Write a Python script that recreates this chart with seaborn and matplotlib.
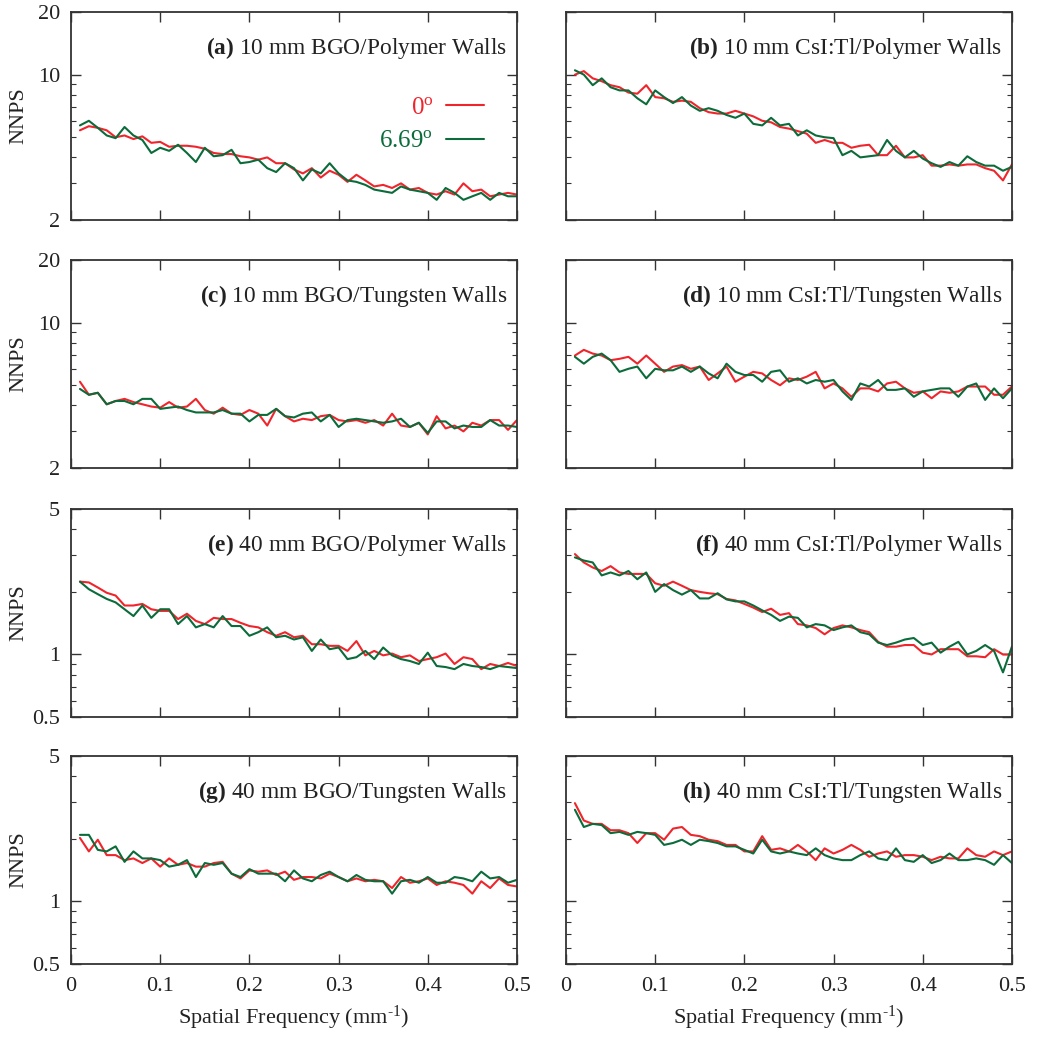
import numpy as np
import pandas as pd
import matplotlib
matplotlib.use("Agg")
import matplotlib.pyplot as plt
import matplotlib.ticker as mticker
import seaborn as sns

# spatial frequency samples (mm^-1)
freq = [0.01, 0.02, 0.03, 0.04, 0.05, 0.06, 0.07, 0.08, 0.09, 0.10,
        0.11, 0.12, 0.13, 0.14, 0.15, 0.16, 0.17, 0.18, 0.19, 0.20,
        0.21, 0.22, 0.23, 0.24, 0.25, 0.26, 0.27, 0.28, 0.29, 0.30,
        0.31, 0.32, 0.33, 0.34, 0.35, 0.36, 0.37, 0.38, 0.39, 0.40,
        0.41, 0.42, 0.43, 0.44, 0.45, 0.46, 0.47, 0.48, 0.49, 0.50]

angles = ["0$^{\\mathrm{o}}$", "6.69$^{\\mathrm{o}}$"]

# (a) 10 mm BGO / polymer walls
a_0 = [5.4, 5.65, 5.55, 5.4, 5.0, 5.1, 4.9, 5.05, 4.7, 4.75,
       4.5, 4.55, 4.55, 4.5, 4.4, 4.2, 4.15, 4.15, 4.05, 4.0,
       3.9, 4.0, 3.75, 3.75, 3.5, 3.35, 3.55, 3.2, 3.45, 3.3,
       3.05, 3.3, 3.1, 2.9, 2.95, 2.85, 3.0, 2.8, 2.85, 2.7,
       2.65, 2.75, 2.65, 3.0, 2.75, 2.8, 2.6, 2.65, 2.7, 2.65]
a_669 = [5.7, 6.0, 5.55, 5.1, 4.95, 5.6, 5.1, 4.85, 4.2, 4.45,
         4.3, 4.6, 4.2, 3.8, 4.45, 4.05, 4.1, 4.35, 3.75, 3.8,
         3.9, 3.55, 3.4, 3.75, 3.55, 3.1, 3.5, 3.35, 3.75, 3.35,
         3.1, 3.05, 2.95, 2.8, 2.75, 2.7, 2.9, 2.8, 2.75, 2.7,
         2.5, 2.85, 2.7, 2.5, 2.6, 2.7, 2.5, 2.7, 2.6, 2.6]

# (b) 10 mm CsI:Tl / polymer walls
b_0 = [10.0, 10.4, 9.6, 9.3, 8.9, 8.7, 8.2, 8.1, 8.9, 7.8,
       7.7, 7.4, 7.5, 7.4, 6.9, 6.6, 6.5, 6.5, 6.7, 6.5,
       6.3, 6.0, 5.9, 5.6, 5.5, 5.35, 5.2, 4.7, 4.85, 4.7,
       4.7, 4.45, 4.55, 4.6, 4.1, 4.1, 4.55, 4.0, 4.0, 4.1,
       3.65, 3.65, 3.7, 3.65, 3.7, 3.7, 3.55, 3.45, 3.1, 3.7]
b_669 = [10.5, 10.0, 8.9, 9.6, 8.7, 8.4, 8.4, 7.7, 7.2, 8.4,
         7.8, 7.3, 7.8, 7.1, 6.7, 6.9, 6.7, 6.4, 6.2, 6.5,
         5.8, 5.7, 6.2, 5.7, 5.8, 5.1, 5.4, 5.1, 5.0, 4.95,
         4.1, 4.3, 4.0, 4.05, 4.1, 4.85, 4.3, 4.0, 4.3, 3.95,
         3.75, 3.6, 3.8, 3.65, 4.05, 3.8, 3.65, 3.65, 3.45, 3.6]

# (c) 10 mm BGO / tungsten walls
c_0 = [5.2, 4.5, 4.6, 4.05, 4.2, 4.3, 4.15, 4.05, 3.95, 3.9,
       4.15, 3.9, 3.95, 4.3, 3.8, 3.65, 3.9, 3.65, 3.6, 3.8,
       3.65, 3.2, 3.85, 3.55, 3.35, 3.45, 3.4, 3.55, 3.6, 3.4,
       3.35, 3.4, 3.3, 3.4, 3.2, 3.65, 3.2, 3.15, 3.3, 2.9,
       3.55, 3.1, 3.2, 3.0, 3.3, 3.2, 3.4, 3.4, 3.05, 3.4]
c_669 = [4.8, 4.5, 4.6, 4.05, 4.2, 4.2, 4.05, 4.3, 4.3, 3.85,
         3.9, 3.95, 3.8, 3.7, 3.7, 3.7, 3.8, 3.65, 3.65, 3.35,
         3.6, 3.6, 3.85, 3.55, 3.5, 3.65, 3.7, 3.35, 3.6, 3.15,
         3.4, 3.45, 3.4, 3.35, 3.3, 3.35, 3.45, 3.15, 3.3, 2.95,
         3.35, 3.35, 3.1, 3.2, 3.15, 3.15, 3.4, 3.2, 3.2, 3.15]

# (d) 10 mm CsI:Tl / tungsten walls
d_0 = [6.95, 7.4, 7.1, 6.95, 6.6, 6.7, 6.85, 6.35, 6.95, 6.35,
       5.8, 6.15, 6.25, 6.0, 6.15, 5.3, 5.7, 6.15, 5.2, 5.5,
       5.8, 5.7, 5.3, 5.0, 5.4, 5.3, 5.5, 5.8, 4.83, 5.1,
       4.83, 4.4, 4.83, 4.83, 4.67, 5.1, 5.2, 4.83, 4.6, 4.67,
       4.33, 4.67, 4.6, 4.67, 4.93, 4.93, 4.93, 4.5, 4.5, 4.93]
d_669 = [6.85, 6.35, 6.85, 7.1, 6.6, 5.8, 6.0, 6.15, 5.4, 6.0,
         5.9, 5.9, 6.15, 5.8, 6.15, 5.7, 5.4, 6.35, 5.8, 5.6,
         5.6, 5.2, 5.8, 5.9, 5.2, 5.4, 5.1, 5.3, 5.2, 5.3,
         4.67, 4.25, 5.1, 4.93, 5.3, 4.75, 4.75, 4.83, 4.4, 4.67,
         4.75, 4.83, 4.83, 4.4, 4.93, 5.1, 4.25, 4.83, 4.33, 4.83]

# (e) 40 mm BGO / polymer walls
e_0 = [2.24, 2.22, 2.1, 1.98, 1.92, 1.72, 1.72, 1.75, 1.65, 1.62,
       1.62, 1.48, 1.57, 1.45, 1.40, 1.5, 1.48, 1.48, 1.42, 1.37,
       1.35, 1.28, 1.23, 1.28, 1.21, 1.23, 1.12, 1.12, 1.10, 1.10,
       1.04, 1.16, 0.99, 1.04, 0.99, 1.01, 0.97, 0.99, 0.93, 0.95,
       0.97, 1.01, 0.9, 0.97, 0.95, 0.85, 0.9, 0.88, 0.91, 0.88]
e_669 = [2.24, 2.06, 1.95, 1.85, 1.78, 1.65, 1.53, 1.72, 1.5, 1.65,
         1.65, 1.40, 1.53, 1.35, 1.40, 1.35, 1.53, 1.37, 1.37, 1.23,
         1.28, 1.35, 1.21, 1.23, 1.18, 1.21, 1.04, 1.18, 1.06, 1.08,
         0.95, 0.97, 1.04, 0.95, 1.08, 0.99, 0.95, 0.93, 0.9, 1.02,
         0.88, 0.87, 0.85, 0.9, 0.88, 0.87, 0.85, 0.88, 0.87, 0.86]

# (f) 40 mm CsI:Tl / polymer walls
f_0 = [3.04, 2.77, 2.62, 2.52, 2.66, 2.48, 2.44, 2.44, 2.44, 2.2,
       2.14, 2.24, 2.14, 2.04, 2.0, 1.97, 1.95, 1.85, 1.82, 1.75,
       1.68, 1.6, 1.66, 1.55, 1.58, 1.4, 1.38, 1.34, 1.25, 1.34,
       1.38, 1.35, 1.31, 1.28, 1.15, 1.09, 1.09, 1.11, 1.11, 1.02,
       1.0, 1.06, 1.06, 1.06, 0.98, 0.98, 0.97, 1.06, 1.0, 1.0]
f_669 = [2.93, 2.83, 2.77, 2.4, 2.48, 2.4, 2.52, 2.3, 2.48, 2.0,
         2.18, 2.04, 1.94, 2.04, 1.86, 1.86, 1.97, 1.84, 1.8, 1.8,
         1.72, 1.63, 1.55, 1.45, 1.52, 1.5, 1.35, 1.4, 1.38, 1.31,
         1.35, 1.38, 1.28, 1.25, 1.14, 1.11, 1.14, 1.18, 1.2, 1.11,
         1.14, 1.02, 1.09, 1.15, 1.0, 1.04, 1.11, 1.04, 0.82, 1.09]

# (g) 40 mm BGO / tungsten walls
g_0 = [2.02, 1.74, 1.98, 1.67, 1.67, 1.58, 1.61, 1.53, 1.61, 1.47,
       1.61, 1.5, 1.53, 1.47, 1.47, 1.53, 1.55, 1.36, 1.29, 1.41,
       1.39, 1.41, 1.34, 1.39, 1.27, 1.31, 1.31, 1.29, 1.36, 1.31,
       1.25, 1.29, 1.25, 1.27, 1.25, 1.16, 1.31, 1.23, 1.25, 1.29,
       1.2, 1.25, 1.23, 1.2, 1.09, 1.25, 1.16, 1.29, 1.2, 1.18]
g_669 = [2.09, 2.09, 1.77, 1.74, 1.84, 1.55, 1.74, 1.61, 1.61, 1.58,
         1.47, 1.5, 1.58, 1.31, 1.53, 1.5, 1.53, 1.36, 1.31, 1.43,
         1.36, 1.36, 1.36, 1.25, 1.41, 1.29, 1.25, 1.34, 1.39, 1.31,
         1.25, 1.34, 1.27, 1.25, 1.25, 1.09, 1.25, 1.27, 1.23, 1.31,
         1.23, 1.23, 1.31, 1.29, 1.25, 1.39, 1.29, 1.31, 1.23, 1.27]

# (h) 40 mm CsI:Tl / tungsten walls
h_0 = [2.97, 2.45, 2.36, 2.36, 2.2, 2.2, 2.13, 1.91, 2.13, 2.13,
       1.98, 2.24, 2.28, 2.09, 2.06, 1.98, 1.95, 1.87, 1.87, 1.74,
       1.74, 2.06, 1.77, 1.8, 1.74, 1.87, 1.74, 1.58, 1.8, 1.7,
       1.77, 1.87, 1.77, 1.64, 1.70, 1.74, 1.64, 1.67, 1.67, 1.64,
       1.58, 1.64, 1.61, 1.61, 1.8, 1.67, 1.64, 1.74, 1.67, 1.74]
h_669 = [2.76, 2.28, 2.36, 2.33, 2.13, 2.16, 2.09, 2.16, 2.13, 2.09,
         1.87, 1.91, 1.98, 1.87, 1.98, 1.95, 1.91, 1.84, 1.84, 1.77,
         1.70, 1.98, 1.74, 1.70, 1.74, 1.70, 1.67, 1.8, 1.67, 1.61,
         1.58, 1.58, 1.67, 1.74, 1.61, 1.58, 1.8, 1.58, 1.55, 1.67,
         1.53, 1.58, 1.70, 1.58, 1.58, 1.61, 1.58, 1.50, 1.67, 1.53]

titles = ["(a)", "(b)", "(c)", "(d)", "(e)", "(f)", "(g)", "(h)"]
descr = ["10 mm BGO/Polymer Walls", "10 mm CsI:Tl/Polymer Walls",
         "10 mm BGO/Tungsten Walls", "10 mm CsI:Tl/Tungsten Walls",
         "40 mm BGO/Polymer Walls", "40 mm CsI:Tl/Polymer Walls",
         "40 mm BGO/Tungsten Walls", "40 mm CsI:Tl/Tungsten Walls"]
series = [(a_0, a_669), (b_0, b_669), (c_0, c_669), (d_0, d_669),
          (e_0, e_669), (f_0, f_669), (g_0, g_669), (h_0, h_669)]

sns.set_style("ticks")
plt.rcParams["font.family"] = ["Liberation Serif", "DejaVu Serif"]
plt.rcParams["mathtext.fontset"] = "custom"
plt.rcParams["mathtext.rm"] = "Liberation Serif"
plt.rcParams["mathtext.it"] = "Liberation Serif:italic"
plt.rcParams["mathtext.bf"] = "Liberation Serif:bold"

red = "#f0252c"
green = "#0b6b3a"
frame = "#333333"

fig = plt.figure(figsize=(10.37, 10.5), dpi=100)
lefts = [0.0685, 0.5458]
bottoms = [0.7905, 0.5543, 0.3171, 0.0819]
w, h = 0.430, 0.198

for i in range(8):
    row, col = divmod(i, 2)
    ax = fig.add_axes([lefts[col], bottoms[row], w, h])
    s0, s1 = series[i]
    df = pd.DataFrame({
        "freq": freq + freq,
        "nnps": s0 + s1,
        "angle": [angles[0]] * len(s0) + [angles[1]] * len(s1),
    })
    sns.lineplot(data=df, x="freq", y="nnps", hue="angle", hue_order=angles,
                 palette=[red, green], linewidth=1.5, ax=ax, legend=False)

    ax.set_yscale("log")
    ax.set_xlim(0, 0.5)
    if row < 2:
        ax.set_ylim(2, 20)
        majors = [2, 10, 20]
    else:
        ax.set_ylim(0.5, 5)
        majors = [0.5, 1, 5]
    ax.yaxis.set_major_locator(mticker.FixedLocator(majors))
    ax.yaxis.set_major_formatter(mticker.FuncFormatter(lambda v, _: f"{v:g}"))
    ax.yaxis.set_minor_locator(mticker.LogLocator(base=10, subs=np.arange(2, 10)))
    ax.yaxis.set_minor_formatter(mticker.NullFormatter())
    ax.xaxis.set_major_locator(mticker.FixedLocator([0, 0.1, 0.2, 0.3, 0.4, 0.5]))
    ax.xaxis.set_major_formatter(mticker.FuncFormatter(lambda v, _: f"{v:g}"))

    ax.tick_params(which="both", direction="in", top=True, right=True,
                   color=frame, labelsize=16, labelcolor="#222222")
    ax.tick_params(which="major", length=7, width=1.0)
    ax.tick_params(which="minor", length=3.5, width=0.8)
    ax.tick_params(axis="x", pad=9)
    ax.tick_params(axis="y", pad=8)
    for sp in ax.spines.values():
        sp.set_color(frame)
        sp.set_linewidth(1.3)

    if col == 1:
        ax.tick_params(labelleft=False)
        ax.set_ylabel("")
    else:
        ax.set_ylabel("NNPS", fontsize=16, color="#222222")
        ax.yaxis.set_label_coords(-0.095, 0.5)
    if row < 3:
        ax.tick_params(labelbottom=False)
        ax.set_xlabel("")
    else:
        ax.set_xlabel("Spatial Frequency (mm$^{\\text{-}1}$)", fontsize=16,
                      color="#222222")
        ax.xaxis.set_label_coords(0.5, -0.19)

    ax.text(0.978, 0.827, "$\\mathbf{" + titles[i] + "}$ " + descr[i],
            transform=ax.transAxes, ha="right", va="center",
            fontsize=16.8, color="#222222")

    if i == 0:
        handles = ax.get_lines()[:2]
        ax.legend(handles, angles, loc="center right", bbox_to_anchor=(0.925, 0.46),
                  frameon=False, markerfirst=False, labelcolor=[red, green],
                  fontsize=18, handlelength=1.5, handletextpad=0.5,
                  labelspacing=0.45, borderpad=0.0, borderaxespad=0.0)

fig.savefig("out.png", dpi=100)
